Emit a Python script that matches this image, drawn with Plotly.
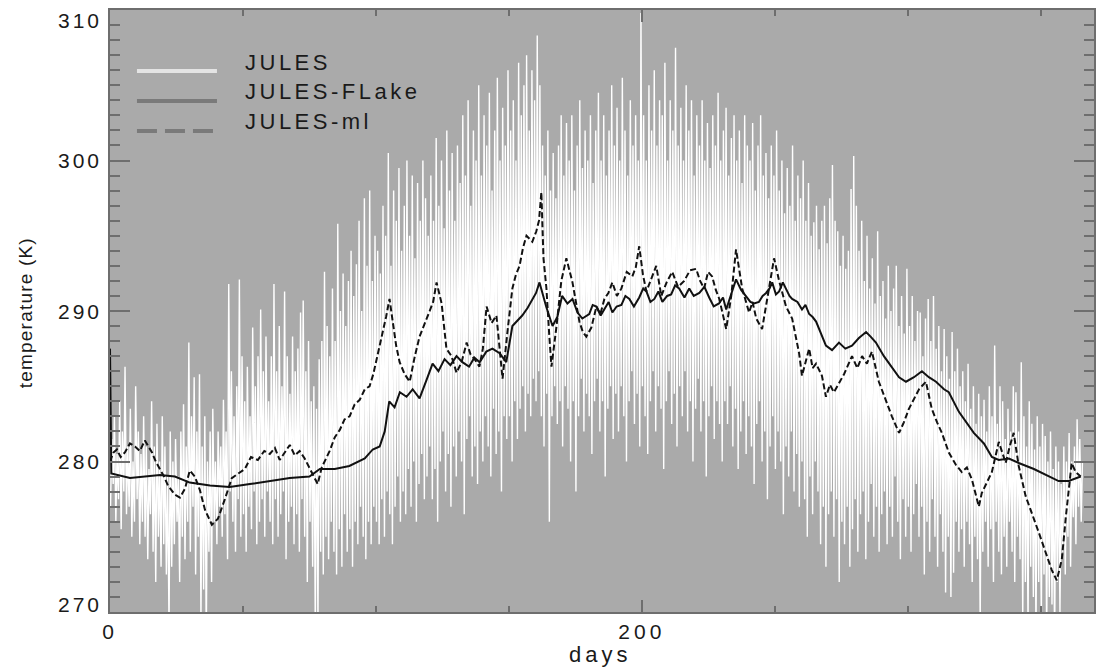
import plotly.graph_objects as go

# ---------------- data ----------------
# JULES: daily minimum and maximum surface temperature (K), days 0..365
jules_min = [
    277, 278.5, 276, 277.5, 275.5, 278, 276.5, 277, 275, 276,
    277.5, 274.5, 276, 275, 273.5, 276.5, 274, 272, 275, 273,
    274.5, 272.5, 269, 273, 274.5, 276, 272, 275, 273.5, 276,
    274, 277, 272.5, 275, 269.5, 271.5, 268, 274, 272, 276,
    274.5, 277, 275, 276.5, 273.5, 278, 276, 274, 277.5, 275,
    276.5, 274, 277, 275.5, 278, 274.5, 276, 277.5, 275, 278,
    276, 274.5, 277.5, 275, 276.5, 278, 273.5, 276, 277, 274.5,
    276.5, 274, 277.5, 275, 272, 276, 273, 268.5, 269, 274,
    272.5, 275, 273.5, 276, 274, 272.5, 275.5, 273, 276.5, 274,
    275.5, 273, 276, 274.5, 277, 275, 273.5, 276, 274.5, 277,
    276, 274.5, 277.5, 275, 278, 276.5, 274.5, 277, 279, 276,
    278, 276.5, 279.5, 277, 280, 276, 278.5, 280.5, 277.5, 279,
    281, 277.5, 279.5, 276, 280, 282, 278, 280.5, 277, 281,
    279, 282, 280, 276.5, 281.5, 283, 279, 281, 278.5, 282,
    280, 283, 281, 279, 283.5, 280.5, 282, 278, 283, 281.5,
    283, 280, 284, 281.5, 283.5, 285, 282, 284.5, 283, 285.5,
    284, 286, 283, 281, 284.5, 276, 283, 285, 282.5, 284,
    281, 285, 283.5, 280, 284, 278, 283, 285.5, 282, 284.5,
    283, 280.5, 284, 285.5, 282, 284, 279, 283.5, 285, 281.5,
    284.5, 282, 285, 283, 280, 284, 286, 282.5, 284.5, 281,
    285, 283, 280.5, 284, 286, 282, 285, 283.5, 279.5, 284,
    286, 282.5, 284.5, 281, 285, 283, 286, 282, 284, 280,
    283.5, 285.5, 282, 284, 279, 283, 285, 281.5, 284, 282.5,
    280, 284, 282.5, 285, 281, 283.5, 279.5, 282, 284, 280.5,
    283, 281, 278.5, 282.5, 284, 280, 282, 277.5, 281, 283,
    279.5, 282, 280, 276.5, 281, 279, 282, 278, 280.5, 277,
    280, 277.5, 275, 279, 276.5, 280, 278, 274.5, 277, 273,
    276.5, 278, 275, 277.5, 272, 276, 274.5, 277, 273, 275.5,
    277.5, 274, 276.5, 278, 273.5, 276, 278.5, 275, 277, 274,
    276.5, 278, 274.5, 277, 275, 279, 276, 273.5, 277.5, 275,
    277, 274, 276.5, 278.5, 275, 277, 272.5, 276, 274, 277.5,
    275, 273, 276.5, 274, 271.3, 275, 271, 272.6, 276, 274,
    275.5, 273, 276, 274.5, 272, 275, 273.5, 269, 274, 276,
    273, 275.5, 272, 276, 274, 272.5, 275, 273, 276, 274,
    272, 275, 273.5, 269.5, 272, 269, 273, 271, 268.5, 272,
    269.5, 272.5, 268.5, 271, 270.5, 268, 272, 270, 274, 272.5,
    275, 273, 276.3, 274.5, 277, 276,
]
jules_max = [
    281.5, 283, 280.5, 284, 282, 286.3, 281, 283.5, 280, 285,
    282, 280.5, 283, 281, 279.5, 284, 281, 282.5, 280, 283,
    281, 279, 282, 280, 281.5, 279, 282, 283.8, 281, 287.9,
    283, 285.6, 282, 285.8, 281, 283, 280, 282, 283.5, 280,
    282, 281, 284.1, 282, 291.8, 286, 283, 285, 292.1, 287,
    284, 286.3, 283, 288.9, 285, 287, 290.1, 286, 288.3, 284,
    287, 291.8, 286, 289, 285, 291.3, 287, 284.5, 288.3, 286,
    287.5, 289.9, 290.7, 286, 288, 284, 285, 283.5, 286.8, 288,
    292.6, 289, 287, 291.5, 288, 295.8, 290, 292.5, 289, 292,
    294, 291, 293.1, 296, 290, 297.5, 293, 298, 292, 295,
    294, 292.5, 297, 295, 300.5, 293, 298, 296, 299.5, 294,
    297, 300, 295, 299, 293.5, 298.5, 296, 300, 297.5, 295,
    299, 296, 301.5, 297, 300, 295.5, 302, 298, 300.5, 296,
    301, 298.5, 303, 299, 304, 297, 302, 300, 305, 299,
    303, 301, 304.5, 298, 302, 305.5, 300, 303.5, 301, 306,
    302, 304, 300, 306.5, 303, 305, 307, 302, 306, 304,
    308.3, 305, 301, 299, 302, 298, 300.5, 297.5, 301, 303,
    299, 302.5, 300, 303, 298, 301, 304, 299.5, 302, 300,
    303, 298.5, 302, 304.5, 300, 303, 299, 302, 305, 301,
    303.5, 300, 305.5, 302, 299, 304, 301, 303, 300, 309.8,
    303, 300, 305, 302, 306, 301, 304, 303, 306.5, 300,
    304, 302, 307.5, 301, 303.5, 300, 305, 302, 304, 299,
    303, 301, 304, 300, 302.5, 299.5, 303, 301, 304.5, 300,
    302, 303.5, 299, 301.5, 303, 300, 302, 298.5, 303, 301,
    300, 302.5, 298, 301, 303, 299, 300.5, 297.5, 301, 299,
    302, 298, 300, 296.5, 299.5, 297, 301, 296, 299, 297.5,
    300, 296, 298.5, 295, 295.9, 297, 294.1, 296, 297, 294.5,
    297.5, 299.7, 296, 295.3, 293, 295, 292.8, 294, 298.1, 300.3,
    297, 294, 296, 292, 295, 291.5, 293.5, 290.5, 295.3, 291,
    292, 289.5, 293, 290, 291.5, 293, 289, 291, 288.5, 292.8,
    289, 291, 288, 290, 289.9, 287, 289.5, 290.8, 288, 291,
    287.5, 289, 286, 288.8, 287, 285.5, 288.6, 286, 287.5, 285,
    286, 284, 286.5, 283.5, 285, 282.5, 284.5, 283, 284.1, 282,
    285, 283, 287.7, 282.5, 285, 284, 281.5, 283.5, 282, 285,
    284.6, 282, 286.6, 283, 281, 284, 282.5, 280.8, 283, 281,
    282.5, 281.7, 280, 282, 279.5, 281, 280, 278.5, 281, 280,
    281.9, 280, 281, 282.8, 281.5, 280,
]

# JULES-FLake: lake surface temperature (K)
flake_day = [
    0, 0.5, 7.5, 18.8, 24.4, 30, 37.6, 45, 52.6, 60, 67.6, 75, 78.9, 84.5, 90,
    95.8, 98.8, 101.4, 103.3, 105, 107, 109, 111.5, 113.8, 116.4, 119, 121.3,
    123.5, 125.8, 128, 130.3, 132.5, 135, 137, 139, 141.5, 143.8, 146.5, 149,
    151.3, 153, 155, 157, 158.8, 160.2, 161.5, 163, 164, 166.4, 168.2, 170,
    172, 173.9, 175.8, 177.6, 180.2, 181.5, 182.9, 184.5, 185.9, 187.5, 188.9,
    190.5, 192.3, 193.8, 195.3, 197, 199, 200.5, 201.7, 203.2, 204.7, 206.2,
    207.7, 209.5, 211, 212.5, 214, 216, 217.8, 219.5, 221.6, 223.5, 225.3, 227,
    229, 230.5, 231.7, 233.5, 235.4, 237.3, 239.2, 240.8, 242.2, 244, 245.4,
    246.7, 248, 249, 250.4, 251.6, 253, 254.2, 255.5, 256.5, 258.5, 260.2,
    261.5, 262.9, 264.2, 265.5, 267.7, 269.2, 271.5, 274.1, 276.5, 279, 281.6,
    284.3, 286, 288, 291, 294, 296.7, 299.3, 302.3, 305.3, 307.9, 310.6, 313.6,
    315.4, 319.2, 324.8, 328.6, 331.6, 334.2, 338, 341.7, 347.4, 353, 356.7,
    360.5, 363.1, 365,
]
flake_temp = [
    287.5, 279.2, 278.9, 279.1, 279.0, 278.6, 278.4, 278.3, 278.5, 278.7, 278.9,
    279.0, 279.5, 279.5, 279.7, 280.2, 280.8, 281.0, 282.0, 284.0, 283.6, 284.6,
    284.3, 284.8, 284.2, 285.4, 286.5, 286.0, 286.8, 286.4, 287.0, 286.6, 286.3,
    286.9, 286.6, 287.3, 287.5, 287.2, 286.6, 289.0, 289.3, 289.7, 290.2, 290.8,
    291.2, 291.9, 290.9, 290.3, 289.0, 289.6, 291.0, 290.5, 290.8, 289.9, 289.5,
    289.8, 290.4, 290.3, 289.7, 290.1, 290.6, 289.9, 290.3, 290.4, 291.0, 290.8,
    290.3, 290.9, 291.5, 291.3, 290.6, 290.8, 291.3, 290.6, 291.0, 291.1, 291.7,
    291.5, 290.9, 291.5, 291.0, 291.2, 291.6, 290.9, 290.3, 290.5, 290.9, 290.1,
    291.0, 292.1, 291.4, 291.0, 290.6, 290.5, 290.6, 291.0, 291.2, 291.5, 291.9,
    291.1, 291.3, 291.9, 291.5, 291.0, 290.8, 290.6, 290.1, 290.4, 289.8, 289.6,
    289.3, 288.3, 287.7, 287.4, 287.9, 287.5, 287.7, 288.2, 288.6, 288.3, 287.9,
    287.0, 286.3, 285.6, 285.3, 285.6, 286.0, 285.6, 285.3, 284.8, 284.6, 283.3,
    281.9, 281.2, 280.3, 280.1, 280.2, 279.9, 279.5, 279.0, 278.7, 278.7, 278.9,
    279.0,
]

# JULES-ml: mixed-layer lake temperature (K)
ml_day = [
    0, 1.3, 2.6, 4, 5.6, 7.5, 9.4, 11.2, 13.1, 15.8, 17.2, 18.8, 20.3, 21.8,
    24.4, 26.3, 28.2, 30, 31.9, 33.8, 35.7, 38.3, 40.6, 43.2, 45.8, 48.2, 50.7,
    53, 55.6, 58, 60.1, 62, 63.8, 65.7, 67.6, 69.5, 71.3, 73.2, 75.1, 78.1,
    79.6, 81, 82.6, 84.5, 86.4, 88.2, 90.1, 92, 93.9, 95.8, 97.6, 99, 100.3,
    101.4, 102.5, 103.8, 105.1, 106.3, 107.6, 108.9, 110.8, 112.7, 114.5,
    116.4, 118.3, 120.2, 121.5, 122.8, 124.7, 126.5, 128.4, 130.3, 132.2,
    134.1, 135.6, 137.1, 138.9, 140.2, 141.6, 143.5, 145.3, 146.5, 147.6,
    149.5, 151.3, 152.6, 154, 155.3, 156.6, 158.8, 160.3, 161.3, 162.2, 163,
    164.1, 165.2, 166, 167.9, 169.7, 171.6, 173.9, 176.5, 177.8, 179.1, 181,
    182.9, 184.4, 185.9, 187.4, 188.9, 190.6, 192.3, 194.3, 196.4, 197.7, 199,
    200.4, 201.7, 203.5, 205.4, 207.3, 209.3, 211.4, 213.6, 215.9, 218.1,
    220.4, 221.9, 223.4, 224.9, 226.4, 227.8, 229.1, 230.4, 231.7, 233.6,
    235.4, 237.7, 240.3, 241.6, 243, 245.2, 246.5, 247.8, 249.7, 251.6, 252.9,
    254.2, 256.5, 258, 259.1, 260.2, 261.5, 262.9, 264.2, 265.5, 267.7, 269.2,
    270.7, 272.2, 274.1, 276, 277.5, 279, 281, 282.8, 284.6, 286.5, 289.1,
    291.8, 294, 296.7, 298.5, 300.4, 302.3, 304.2, 306.8, 309, 311, 312.8,
    315.4, 318, 320.3, 322.2, 324.1, 326.7, 327.8, 329.7, 331.6, 334.2, 336.8,
    338.3, 339.8, 341.7, 344.3, 349.2, 354.1, 356, 357.9, 359.4, 360.5, 361.6,
    363.1, 365,
]
ml_temp = [
    280.0, 280.6, 280.8, 280.3, 280.6, 281.2, 281.0, 280.7, 281.4, 280.6, 280.0,
    279.5, 279.0, 278.4, 277.8, 277.6, 278.2, 279.4, 279.0, 278.1, 276.8, 275.8,
    276.2, 277.5, 278.9, 279.2, 279.5, 280.3, 280.1, 280.7, 280.5, 280.9, 280.1,
    280.6, 281.1, 280.4, 280.7, 280.2, 279.5, 278.5, 279.6, 280.1, 280.7, 281.6,
    282.1, 282.8, 283.0, 283.8, 284.1, 284.8, 285.0, 285.8, 286.8, 287.6, 288.5,
    289.6, 290.8, 289.3, 287.7, 286.6, 285.8, 285.3, 286.9, 288.3, 289.1, 290.0,
    290.6, 291.9, 290.5, 287.5, 287.0, 285.9, 286.6, 287.9, 287.1, 286.8, 286.3,
    287.5, 290.3, 289.2, 289.7, 287.4, 285.5, 288.7, 291.5, 292.4, 293.0, 294.2,
    295.0, 294.6, 295.3, 296.0, 297.9, 293.5, 291.5, 288.3, 286.3, 289.0, 292.0,
    293.5, 291.9, 289.3, 288.6, 288.3, 288.9, 290.3, 289.8, 290.8, 291.2, 291.9,
    291.0, 291.5, 292.6, 292.3, 292.9, 294.3, 292.4, 291.3, 292.1, 293.0, 291.0,
    291.9, 292.6, 291.6, 292.0, 292.7, 292.8, 292.0, 291.5, 292.6, 292.3, 291.4,
    290.8, 289.7, 288.8, 291.0, 294.1, 291.5, 289.9, 290.6, 289.5, 288.8, 290.2,
    291.5, 293.5, 292.0, 291.2, 290.3, 289.5, 288.3, 287.2, 285.7, 286.6, 287.5,
    286.2, 286.5, 285.7, 284.3, 285.1, 284.6, 285.2, 285.8, 286.4, 287.0, 286.2,
    287.0, 286.5, 287.3, 285.3, 284.0, 283.0, 281.9, 282.6, 283.5, 284.2, 284.8,
    285.3, 283.5, 282.6, 281.9, 280.6, 279.8, 279.3, 279.6, 278.8, 277.0, 277.9,
    278.6, 279.3, 281.3, 279.9, 281.0, 281.9, 279.7, 277.7, 275.3, 272.8, 272.1,
    273.5, 276.3, 278.1, 279.9, 279.3, 279.0,
]

series_names = ["JULES", "JULES-FLake", "JULES-ml"]
y_ticks = [270, 280, 290, 300, 310]
x_ticks = [0, 200]

# ---------------- build traces ----------------
jules_x, jules_y = [], []
for d, (lo, hi) in enumerate(zip(jules_min, jules_max)):
    jules_x += [d + 0.2, d + 0.65]
    jules_y += [lo, hi]

FONT = "Liberation Sans"
TXT = "#1a1a1a"


def spaced(text, ls):
    return f'<span style="letter-spacing:{ls}px">{text}</span>'


fig = go.Figure()
fig.add_trace(go.Scatter(x=jules_x, y=jules_y, mode="lines",
                         line=dict(color="#ffffff", width=1.4),
                         name=series_names[0], showlegend=False,
                         hoverinfo="skip"))
fig.add_trace(go.Scatter(x=flake_day, y=flake_temp, mode="lines",
                         line=dict(color="#111111", width=2),
                         name=series_names[1], showlegend=False))
fig.add_trace(go.Scatter(x=ml_day, y=ml_temp, mode="lines",
                         line=dict(color="#111111", width=2, dash="6px,3px"),
                         name=series_names[2], showlegend=False))

# ---------------- legend (drawn in paper space) ----------------
leg_colors = ["#e4e4e4", "#7a7a7a", "#7a7a7a"]
leg_dash = ["solid", "solid", "20px,8px"]
leg_line_y = [0.8987, 0.8488, 0.7990]
leg_text_y = [0.9136, 0.8638, 0.8140]
for i, name in enumerate(series_names):
    fig.add_shape(type="line", xref="paper", yref="paper",
                  x0=0.0274, x1=0.1087, y0=leg_line_y[i], y1=leg_line_y[i],
                  line=dict(color=leg_colors[i], width=4, dash=leg_dash[i]))
    fig.add_annotation(xref="paper", yref="paper", x=0.1352, y=leg_text_y[i],
                       xanchor="left", yanchor="middle", showarrow=False,
                       text=spaced(name, 3.5),
                       font=dict(family=FONT, size=22, color=TXT))

# y tick labels (end labels nudged inside the frame, as in the original)
y_label_shift = {270: 8, 310: -10}
for v in y_ticks:
    fig.add_annotation(xref="paper", yref="y", x=0, y=v, xshift=-6,
                       yshift=y_label_shift.get(v, 0),
                       xanchor="right", yanchor="middle", showarrow=False,
                       text=spaced(str(v), 3),
                       font=dict(family=FONT, size=21, color=TXT))

# axis titles
fig.add_annotation(xref="paper", yref="paper", x=0.498, y=-0.0698,
                   xanchor="center", yanchor="middle", showarrow=False,
                   text=spaced("days", 4),
                   font=dict(family=FONT, size=22, color=TXT))
fig.add_annotation(xref="paper", yref="paper", x=-0.0864, y=0.498,
                   xanchor="center", yanchor="middle", showarrow=False,
                   textangle=-90, text=spaced("temperature (K)", 1.2),
                   font=dict(family=FONT, size=19, color=TXT))

axis_col = "#6e6e6e"
fig.update_xaxes(range=[0, 370], showgrid=False, zeroline=False,
                 automargin=False,
                 showline=True, linecolor=axis_col, linewidth=1.5,
                 mirror="allticks", ticks="inside", ticklen=12,
                 tickcolor=axis_col, tickwidth=1.5,
                 tickvals=x_ticks, ticktext=[spaced(str(v), 4) for v in x_ticks],
                 tickfont=dict(family=FONT, size=21, color=TXT),
                 minor=dict(dtick=50, ticklen=6, ticks="inside",
                            tickcolor=axis_col, tickwidth=1.5))
fig.update_yaxes(range=[270, 310], showgrid=False, zeroline=False,
                 automargin=False, showticklabels=False,
                 showline=True, linecolor=axis_col, linewidth=1.5,
                 mirror="allticks", ticks="inside", ticklen=20,
                 tickcolor=axis_col, tickwidth=1.5,
                 tickvals=y_ticks,
                 minor=dict(dtick=1, ticklen=10, ticks="inside",
                            tickcolor=axis_col, tickwidth=1.5))

fig.update_layout(width=1096, height=667,
                  margin=dict(l=110, r=2, t=10, b=55),
                  paper_bgcolor="#ffffff", plot_bgcolor="#aaaaaa",
                  showlegend=False)

fig.write_html("out.html", config={"displayModeBar": False},
               post_script="document.body.style.margin='0';"
                           "document.body.style.overflow='hidden';")
